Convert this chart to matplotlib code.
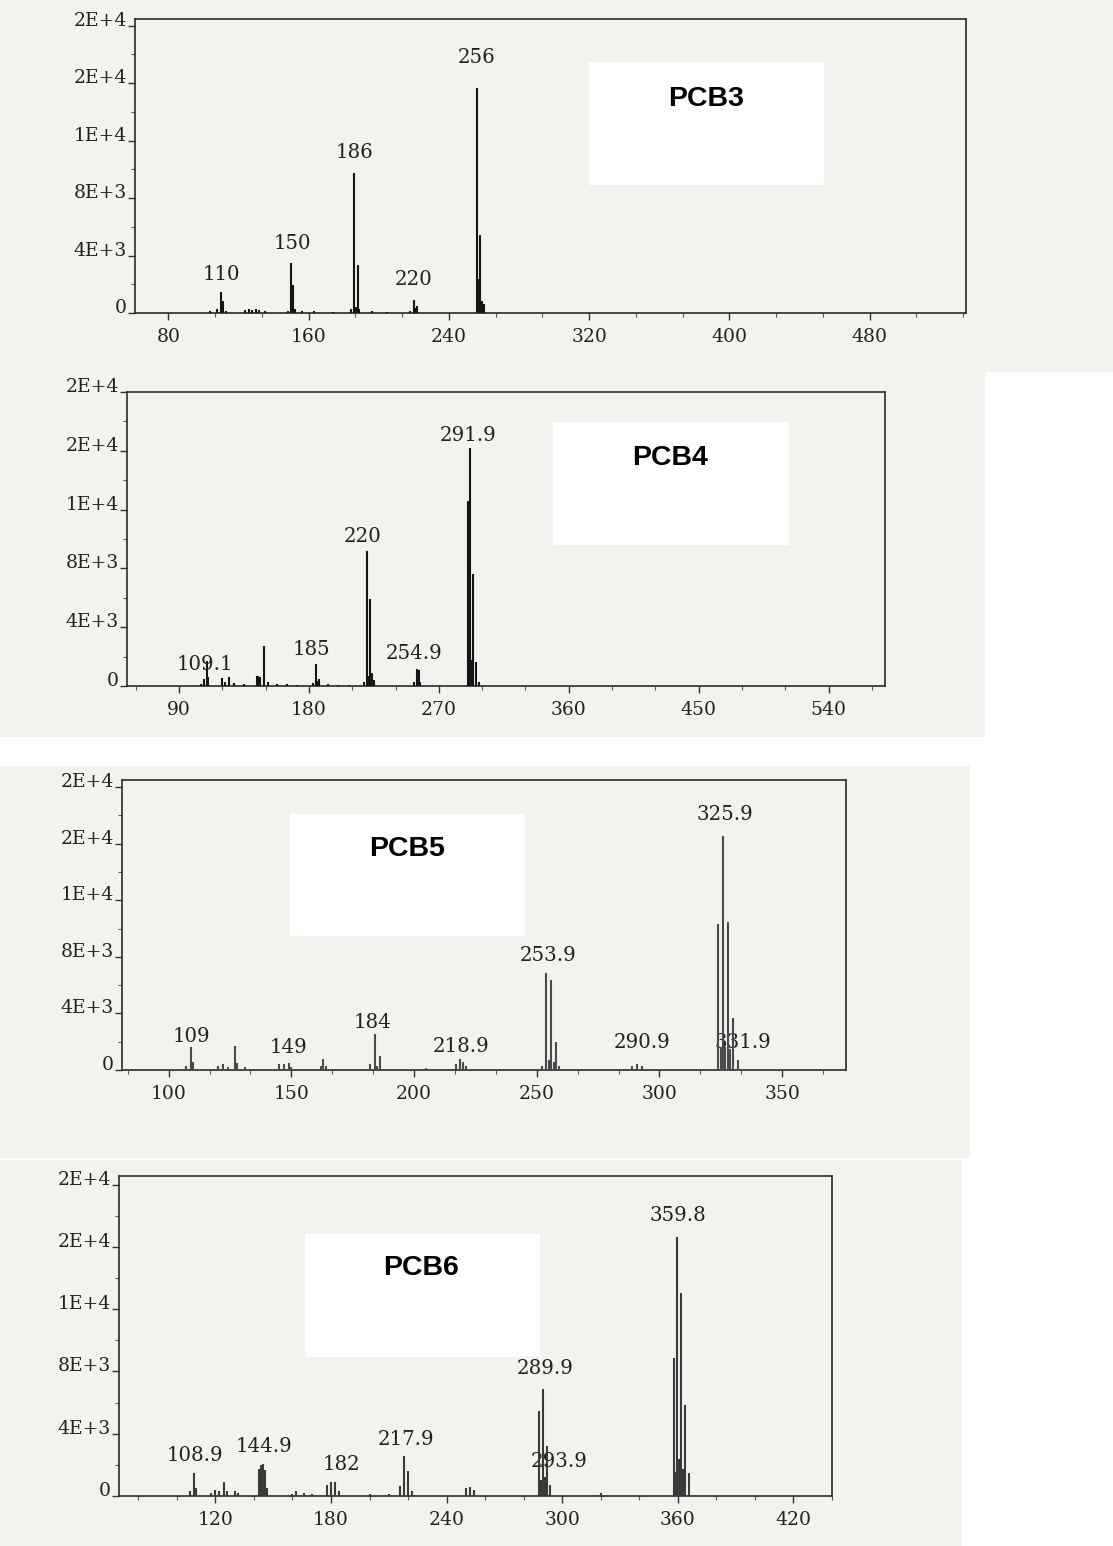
import matplotlib
matplotlib.use("Agg")
import matplotlib.pyplot as plt
from matplotlib.patches import Rectangle
from matplotlib.ticker import MultipleLocator, FixedLocator, FixedFormatter

W, H, DPI = 1113, 1546, 100

# ---------------- data ----------------
y_ticks = [0, 4000, 8000, 12000, 16000, 20000]
y_tick_labels = ["0", "4E+3", "8E+3", "1E+4", "2E+4", "2E+4"]

compounds = ["PCB3", "PCB4", "PCB5", "PCB6"]

pcb3_mz = [104, 108, 110, 111, 113, 124, 126, 128, 130, 132, 135, 148, 150, 151, 152, 156, 163,
           174, 184, 186, 187, 188, 189, 196, 205, 218, 220, 221, 222, 256, 257, 258, 259, 260]
pcb3_int = [120, 300, 1430, 810, 150, 180, 250, 220, 250, 180, 120, 150, 3500, 1930, 300, 120, 150,
            100, 250, 9750, 400, 3360, 250, 120, 100, 150, 920, 350, 500, 15700, 2380, 5400, 810, 610]
pcb3_labels = ["110", "150", "186", "220", "256"]
pcb3_label_x = [110, 151, 186, 220, 256]
pcb3_label_y = [2670, 4850, 11200, 2300, 17800]

pcb4_mz = [105, 107, 109.1, 110, 120, 122, 124.5, 128, 135, 144, 145, 146, 149, 152, 158, 165, 172,
           183, 185, 186, 187, 193, 200, 208, 218, 220, 221, 222, 224, 225, 253, 254.9, 256, 257,
           289.9, 290.9, 291.9, 292.9, 293.9, 295.9, 297.9]
pcb4_int = [150, 500, 1700, 600, 550, 300, 600, 200, 150, 650, 700, 600, 2700, 250, 150, 120, 100,
            200, 1500, 350, 500, 150, 100, 100, 300, 9200, 700, 5900, 900, 400, 300, 1150, 1100, 300,
            12600, 1500, 16200, 1800, 7600, 1600, 300]
pcb4_labels = ["109.1", "185", "220", "254.9", "291.9"]
pcb4_label_x = [108, 182, 217, 253, 290]
pcb4_label_y = [1430, 2450, 10200, 2240, 17070]

pcb5_mz = [107, 109, 110, 120, 122, 124, 127, 128, 131, 136, 145, 147, 149, 150, 162, 163, 164, 170,
           182, 184, 185, 186, 195, 205, 217, 218.9, 220, 221, 230, 240, 252, 253.9, 254.9, 255.9,
           256.9, 257.9, 259, 288.9, 290.9, 292.9, 310, 323.9, 324.9, 325.9, 326.9, 327.9, 328.9,
           329.9, 331.9]
pcb5_int = [300, 1600, 600, 250, 450, 200, 1700, 500, 200, 100, 400, 450, 500, 200, 300, 770, 300, 100,
            400, 2580, 300, 980, 100, 150, 400, 770, 600, 300, 100, 100, 300, 6850, 700, 6350,
            600, 1950, 300, 250, 400, 250, 100, 10350, 1650, 16550, 1650, 10450, 1450,
            3700, 720]
pcb5_labels = ["109", "149", "184", "218.9", "253.9", "290.9", "325.9", "331.9"]
pcb5_label_x = [109.3, 148.9, 183.2, 219, 254.5, 292.9, 326.7, 334]
pcb5_label_y = [2400, 1560, 3330, 1690, 8060, 1910, 18030, 1910]

pcb6_mz = [107, 108.9, 110, 118, 120, 122, 124.5, 126, 130, 132, 142.9, 143.9, 144.9, 145.9, 146.9,
           160, 162, 166, 170, 178, 180, 182, 184, 200, 210, 215.9, 217.9, 219.9, 221.9, 250, 252,
           254, 287.9, 288.9, 289.9, 290.9, 291.9, 293.9, 320, 357.8, 358.8, 359.8, 360.8, 361.8,
           362.8, 363.8, 365.8]
pcb6_int = [300, 1500, 500, 200, 400, 300, 930, 300, 300, 200, 1760, 1970, 2070, 1660, 500,
            150, 350, 200, 150, 720, 930, 880, 300, 150, 150, 620, 2550, 1600, 300, 500, 570,
            400, 5450, 1000, 6900, 1250, 3180, 720, 200, 8850, 1550, 16650, 2400, 13050,
            1750, 5850, 1450]
pcb6_labels = ["108.9", "144.9", "182", "217.9", "289.9", "293.9", "359.8"]
pcb6_label_x = [109.5, 145.4, 185.4, 218.7, 291, 298.3, 360.2]
pcb6_label_y = [2630, 3150, 2050, 3660, 8170, 2190, 18000]

spectra = [
    (pcb3_mz, pcb3_int, pcb3_labels, pcb3_label_x, pcb3_label_y),
    (pcb4_mz, pcb4_int, pcb4_labels, pcb4_label_x, pcb4_label_y),
    (pcb5_mz, pcb5_int, pcb5_labels, pcb5_label_x, pcb5_label_y),
    (pcb6_mz, pcb6_int, pcb6_labels, pcb6_label_x, pcb6_label_y),
]

# ---------------- layout (pixels) ----------------
axes_px = [(135, 19, 966, 313), (127, 392, 885, 686), (122, 780, 846, 1070), (119, 1176, 832, 1496)]
xlims = [(61, 535), (54, 579), (81, 376), (70, 440)]
ytops = [20470, 20000, 20500, 20550]
x_major = [80, 90, 50, 60]
x_minor = [80 / 3, 30, 50 / 3, 20]
bg_px = [(0, 0, 1113, 372), (0, 372, 985, 737), (0, 766, 970, 1158), (0, 1160, 962, 1546)]
box_px = [(589, 62, 824, 185), (553, 422, 789, 545), (290, 814, 525, 936), (305, 1234, 540, 1357)]
name_px = [(706, 99), (670, 458), (407, 849), (421, 1268)]
peak_colors = ["#151515", "#151515", "#4a4a4a", "#3a3a3a"]

BG = "#f1f3ef"
SERIF = "DejaVu Serif"


def frac_box(l, t, r, b):
    return [l / W, 1 - b / H, (r - l) / W, (b - t) / H]


fig = plt.figure(figsize=(W / DPI, H / DPI), dpi=DPI)
fig.patch.set_facecolor("white")

for (l, t, r, b) in bg_px:
    x0, y0, w, h = frac_box(l, t, r, b)
    fig.add_artist(Rectangle((x0, y0), w, h, transform=fig.transFigure,
                             facecolor=BG, edgecolor="none", zorder=-5))

for i, (mz, inten, labs, lx, ly) in enumerate(spectra):
    ax = fig.add_axes(frac_box(*axes_px[i]))
    ax.set_facecolor(BG)
    ax.vlines(mz, 0, inten, colors=peak_colors[i], linewidth=1.5, zorder=3)
    for t, x, y in zip(labs, lx, ly):
        ax.text(x, y, t, ha="center", va="center", family=SERIF, fontsize=14.2,
                color="#222222", zorder=2)
    ax.set_xlim(*xlims[i])
    ax.set_ylim(0, ytops[i])
    ax.xaxis.set_major_locator(MultipleLocator(x_major[i]))
    ax.xaxis.set_minor_locator(MultipleLocator(x_minor[i]))
    ax.yaxis.set_major_locator(FixedLocator(y_ticks))
    ax.yaxis.set_major_formatter(FixedFormatter(y_tick_labels))
    ax.yaxis.set_minor_locator(MultipleLocator(2000))
    ax.tick_params(axis="both", which="major", direction="out", length=5, width=1,
                   color="#333333", labelcolor="#222222", labelsize=13.5)
    ax.tick_params(axis="both", which="minor", direction="out", length=3, width=0.8,
                   color="#555555")
    ax.tick_params(axis="x", which="major", pad=6)
    ax.tick_params(axis="y", which="major", pad=1)
    for lab in ax.get_xticklabels() + ax.get_yticklabels():
        lab.set_family(SERIF)
    for lab in ax.get_yticklabels():
        lab.set_va("baseline")
    for sp in ax.spines.values():
        sp.set_color("#2a2a2a")
        sp.set_linewidth(1.2)

    x0, y0, w, h = frac_box(*box_px[i])
    fig.add_artist(Rectangle((x0, y0), w, h, transform=fig.transFigure,
                             facecolor="white", edgecolor="none", zorder=10))
    fig.text(name_px[i][0] / W, 1 - name_px[i][1] / H, compounds[i], ha="center", va="center",
             family="Liberation Sans", fontweight="bold", fontsize=20.5, color="black", zorder=11)

fig.savefig("out.png", dpi=DPI, facecolor=fig.get_facecolor())
